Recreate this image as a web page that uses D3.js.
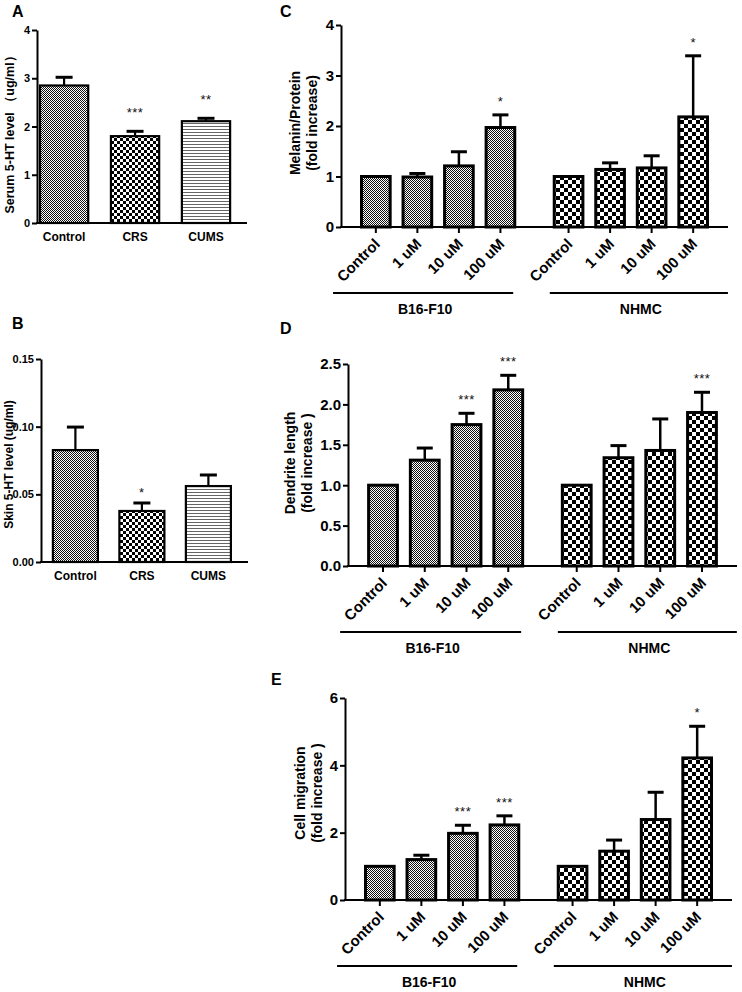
<!DOCTYPE html>
<html><head><meta charset="utf-8">
<script src="https://cdn.jsdelivr.net/npm/d3@7"></script>
<style>
body{margin:0;background:#fff;}
svg{display:block;}
</style></head><body>
<svg id="chart" width="742" height="992"></svg>
<script>
// ---------- DATA ----------
const catsAB = ["Control", "CRS", "CUMS"];
const serumMean = [2.85, 1.80, 2.11];
const serumErr = [0.17, 0.10, 0.06];
const serumSig = ["", "***", "**"];
const serumTicks = [0, 1, 2, 3, 4];

const skinMean = [0.0827, 0.0377, 0.0561];
const skinErr = [0.0170, 0.0059, 0.0082];
const skinSig = ["", "*", ""];
const skinTicks = [0, 0.05, 0.10, 0.15];

const groups = ["B16-F10", "NHMC"];
const doses = ["Control", "1 uM", "10 uM", "100 uM"];

const melaninB16 = [1.00, 0.99, 1.21, 1.97];
const melaninB16Err = [0, 0.07, 0.28, 0.25];
const melaninB16Sig = ["", "", "", "*"];
const melaninNHMC = [1.00, 1.14, 1.17, 2.18];
const melaninNHMCErr = [0, 0.13, 0.24, 1.21];
const melaninNHMCSig = ["", "", "", "*"];
const melaninTicks = [0, 1, 2, 3, 4];

const dendriteB16 = [1.00, 1.31, 1.75, 2.18];
const dendriteB16Err = [0, 0.15, 0.14, 0.18];
const dendriteB16Sig = ["", "", "***", "***"];
const dendriteNHMC = [1.00, 1.34, 1.43, 1.90];
const dendriteNHMCErr = [0, 0.15, 0.39, 0.25];
const dendriteNHMCSig = ["", "", "", "***"];
const dendriteTicks = [0, 0.5, 1.0, 1.5, 2.0, 2.5];

const migrationB16 = [1.00, 1.20, 1.98, 2.23];
const migrationB16Err = [0, 0.13, 0.24, 0.27];
const migrationB16Sig = ["", "", "***", "***"];
const migrationNHMC = [1.00, 1.45, 2.39, 4.22];
const migrationNHMCErr = [0, 0.33, 0.81, 0.94];
const migrationNHMCSig = ["", "", "", "*"];
const migrationTicks = [0, 2, 4, 6];

// ---------- SETUP ----------
const svg = d3.select("#chart");
const defs = svg.append("defs");
const BOLD = "'Liberation Sans', Arial, sans-serif";
const NARROW = "'Liberation Sans Narrow', 'Liberation Sans', Arial, sans-serif";

function checker(id, size, color) {
  const p = defs.append("pattern").attr("id", id).attr("patternUnits", "userSpaceOnUse")
    .attr("width", size * 2).attr("height", size * 2);
  p.append("rect").attr("width", size * 2).attr("height", size * 2).attr("fill", "#fff");
  p.append("rect").attr("width", size).attr("height", size).attr("fill", color).attr("shape-rendering", "crispEdges");
  p.append("rect").attr("x", size).attr("y", size).attr("width", size).attr("height", size).attr("fill", color).attr("shape-rendering", "crispEdges");
}
checker("fine", 1, "#111");
checker("check3", 3, "#000");
checker("check4", 4, "#000");
(function () {
  const p = defs.append("pattern").attr("id", "hlines").attr("patternUnits", "userSpaceOnUse")
    .attr("width", 4).attr("height", 3);
  p.append("rect").attr("width", 4).attr("height", 3).attr("fill", "#fff");
  p.append("rect").attr("y", 0).attr("width", 4).attr("height", 1).attr("fill", "#666").attr("shape-rendering", "crispEdges");
})();

function panelLetter(t, x, y) {
  svg.append("text").attr("x", x).attr("y", y).text(t)
    .attr("font-family", BOLD).attr("font-weight", "bold").attr("font-size", 16);
}

function yAxis(g, y, ticks, fmt, x0, fontSize, family) {
  const ax = g.append("g").attr("transform", `translate(${x0},0)`)
    .call(d3.axisLeft(y).tickValues(ticks).tickFormat(fmt).tickSize(5).tickSizeOuter(0).tickPadding(2));
  ax.select(".domain").attr("stroke", "#000").attr("stroke-width", 2);
  ax.selectAll(".tick line").attr("stroke", "#000").attr("stroke-width", 2);
  ax.selectAll(".tick text").attr("font-family", family).attr("font-weight", "bold")
    .attr("font-size", fontSize).attr("fill", "#000");
  return ax;
}

function bars(g, items, y, strokeW, errW, capW, starOffset) {
  const y0 = y(0);
  g.selectAll(null).data(items).enter().append("rect")
    .attr("x", d => d.x).attr("width", d => d.w)
    .attr("y", d => y(d.mean)).attr("height", d => y0 - y(d.mean))
    .attr("fill", d => `url(#${d.fill})`).attr("stroke", "#000").attr("stroke-width", strokeW);
  const e = items.filter(d => d.err > 0);
  g.selectAll(null).data(e).enter().append("line")
    .attr("x1", d => d.x + d.w / 2).attr("x2", d => d.x + d.w / 2)
    .attr("y1", d => y(d.mean)).attr("y2", d => y(d.mean + d.err))
    .attr("stroke", "#000").attr("stroke-width", errW);
  g.selectAll(null).data(e).enter().append("line")
    .attr("x1", d => d.x + d.w / 2 - capW / 2).attr("x2", d => d.x + d.w / 2 + capW / 2)
    .attr("y1", d => y(d.mean + d.err)).attr("y2", d => y(d.mean + d.err))
    .attr("stroke", "#000").attr("stroke-width", 3);
  g.selectAll(null).data(items.filter(d => d.sig)).enter().append("text")
    .attr("x", d => d.x + d.w / 2).attr("y", d => y(d.mean + d.err) - starOffset)
    .attr("text-anchor", "middle").attr("font-family", BOLD).attr("font-size", 13)
    .attr("letter-spacing", 0.5).attr("fill", "#111").text(d => d.sig);
}

// ---------- SIMPLE PANELS (A, B) ----------
function simplePanel(c) {
  const g = svg.append("g");
  const y = d3.scaleLinear().domain([c.ticks[0], c.ticks[c.ticks.length - 1]]).range([c.yBot, c.yTop]);
  const x = d3.scaleBand().domain(c.cats).range([c.x0, c.xEnd])
    .paddingInner(c.pi).paddingOuter(c.po).align(c.align);
  const items = c.cats.map((k, i) => ({ x: x(k), w: x.bandwidth(), mean: c.mean[i], err: c.err[i], sig: c.sig[i], fill: c.fills[i] }));
  bars(g, items, y, 2.2, 2.2, 17, c.starOffset);
  yAxis(g, y, c.ticks, c.fmt, c.x0, 11, NARROW);
  g.append("line").attr("x1", c.x0 - 1).attr("x2", c.xEnd).attr("y1", c.yBot).attr("y2", c.yBot)
    .attr("stroke", "#000").attr("stroke-width", 2);
  g.selectAll(null).data(c.cats).enter().append("text")
    .attr("x", d => x(d) + x.bandwidth() / 2).attr("y", c.yBot + 18)
    .attr("text-anchor", "middle").attr("font-family", NARROW).attr("font-weight", "bold")
    .attr("font-size", 12).text(d => d);
  g.append("text").attr("transform", `translate(${c.labelX},${(c.yTop + c.yBot) / 2 + c.labelDy}) rotate(-90)`)
    .attr("text-anchor", "middle").attr("dominant-baseline", "central")
    .attr("font-family", NARROW).attr("font-weight", "bold").attr("font-size", c.labelSize).text(c.ylabel);
}

panelLetter("A", 12, 17);
simplePanel({
  cats: catsAB, mean: serumMean, err: serumErr, sig: serumSig, ticks: serumTicks, fmt: d3.format("d"),
  x0: 37, xEnd: 247, yTop: 30, yBot: 223, pi: 0.32, po: 0.14, align: 0.15,
  fills: ["fine", "check3", "hlines"], ylabel: "Serum 5-HT level （ug/ml）", labelX: 10, labelDy: 5,
  labelSize: 12.5, starOffset: 14
});
panelLetter("B", 12, 329);
simplePanel({
  cats: catsAB, mean: skinMean, err: skinErr, sig: skinSig, ticks: skinTicks, fmt: d3.format(".2f"),
  x0: 41, xEnd: 248, yTop: 359, yBot: 562, pi: 0.323, po: 0.218, align: 0.41,
  fills: ["fine", "check3", "hlines"], ylabel: "Skin 5-HT level (ug/ml)", labelX: 9, labelDy: 4,
  labelSize: 12, starOffset: 6
});

// ---------- GROUPED PANELS (C, D, E) ----------
function groupedPanel(c) {
  const g = svg.append("g");
  const y = d3.scaleLinear().domain([c.ticks[0], c.ticks[c.ticks.length - 1]]).range([c.yBot, c.yTop]);
  const xg = d3.scaleBand().domain(groups).range([c.x0, c.xEnd]).paddingInner(0.138).paddingOuter(0.073);
  const xd = d3.scaleBand().domain(doses).range([0, xg.bandwidth()]).paddingInner(0.31).paddingOuter(0.155);
  const series = [
    { grp: groups[0], mean: c.b16, err: c.b16Err, sig: c.b16Sig, fill: "fine" },
    { grp: groups[1], mean: c.nhmc, err: c.nhmcErr, sig: c.nhmcSig, fill: "check4" }
  ];
  const items = [];
  series.forEach(s => doses.forEach((d, i) => items.push({
    grp: s.grp, dose: d, x: xg(s.grp) + xd(d), w: xd.bandwidth(),
    mean: s.mean[i], err: s.err[i], sig: s.sig[i], fill: s.fill
  })));
  bars(g, items, y, 3, 2.5, 16, 9);
  yAxis(g, y, c.ticks, c.fmt, c.x0, 15, BOLD);
  // x axis line
  g.append("line").attr("x1", c.x0 - 1).attr("x2", c.xEnd).attr("y1", c.yBot).attr("y2", c.yBot)
    .attr("stroke", "#000").attr("stroke-width", 2);
  // x ticks
  g.selectAll(null).data(items).enter().append("line")
    .attr("x1", d => d.x + d.w / 2).attr("x2", d => d.x + d.w / 2)
    .attr("y1", c.yBot).attr("y2", c.yBot + 6).attr("stroke", "#000").attr("stroke-width", 2);
  // rotated labels
  g.selectAll(null).data(items).enter().append("text")
    .attr("transform", d => `translate(${d.x + d.w / 2 + 5},${c.yBot + 18}) rotate(-45)`)
    .attr("text-anchor", "end").attr("font-family", BOLD).attr("font-weight", "bold")
    .attr("font-size", 15).text(d => d.dose);
  // group lines and labels
  const ext = { "B16-F10": [-22, -8], "NHMC": [2, 14] };
  groups.forEach(gr => {
    const a = xg(gr) + ext[gr][0], b = xg(gr) + xg.bandwidth() + ext[gr][1];
    g.append("line").attr("x1", a).attr("x2", b).attr("y1", c.yBot + 66).attr("y2", c.yBot + 66)
      .attr("stroke", "#000").attr("stroke-width", 1.8);
    g.append("text").attr("x", (a + b) / 2 + 2).attr("y", c.yBot + 87).attr("text-anchor", "middle")
      .attr("font-family", BOLD).attr("font-weight", "bold").attr("font-size", 14).text(gr);
  });
  // y label (two lines)
  const cy = (c.yTop + c.yBot) / 2 + c.labelDy;
  c.ylabel.forEach((t, i) => {
    g.append("text").attr("transform", `translate(${c.x0 + c.labelDx[i]},${cy}) rotate(-90)`)
      .attr("text-anchor", "middle").attr("dominant-baseline", "central")
      .attr("font-family", BOLD).attr("font-weight", "bold").attr("font-size", 14).text(t);
  });
}

panelLetter("C", 280, 17);
groupedPanel({
  b16: melaninB16, b16Err: melaninB16Err, b16Sig: melaninB16Sig,
  nhmc: melaninNHMC, nhmcErr: melaninNHMCErr, nhmcSig: melaninNHMCSig,
  ticks: melaninTicks, fmt: d3.format("d"), x0: 341, xEnd: 728, yTop: 25, yBot: 227,
  ylabel: ["Melanin/Protein", "(fold increase)"], labelDx: [-46, -29], labelDy: -3
});
panelLetter("D", 280, 334);
groupedPanel({
  b16: dendriteB16, b16Err: dendriteB16Err, b16Sig: dendriteB16Sig,
  nhmc: dendriteNHMC, nhmcErr: dendriteNHMCErr, nhmcSig: dendriteNHMCSig,
  ticks: dendriteTicks, fmt: d3.format(".1f"), x0: 348, xEnd: 737, yTop: 364, yBot: 566,
  ylabel: ["Dendrite length", "(fold increase )"], labelDx: [-58, -41], labelDy: -2
});
panelLetter("E", 271, 685);
groupedPanel({
  b16: migrationB16, b16Err: migrationB16Err, b16Sig: migrationB16Sig,
  nhmc: migrationNHMC, nhmcErr: migrationNHMCErr, nhmcSig: migrationNHMCSig,
  ticks: migrationTicks, fmt: d3.format("d"), x0: 345, xEnd: 732, yTop: 698, yBot: 900,
  ylabel: ["Cell migration", "(fold increase )"], labelDx: [-45, -28], labelDy: -6
});
</script>
</body></html>
